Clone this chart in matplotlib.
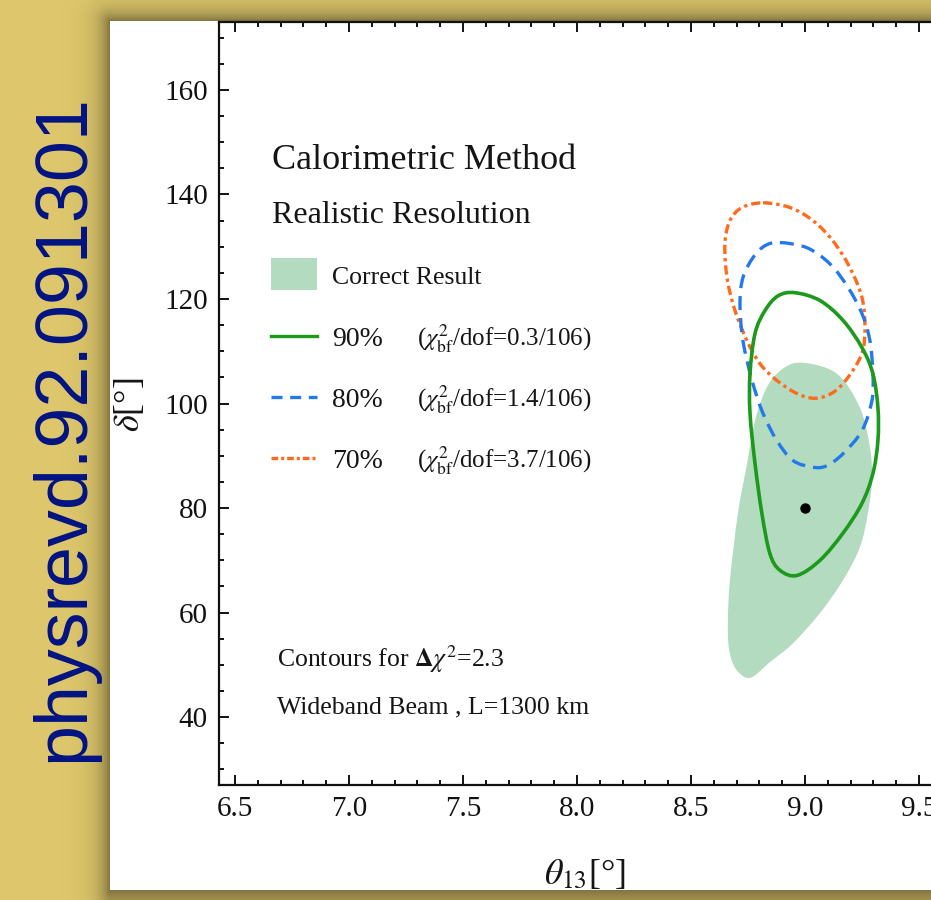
import numpy as np
import matplotlib
matplotlib.use('Agg')
import matplotlib.pyplot as plt
from matplotlib.path import Path
from matplotlib.patches import PathPatch, Rectangle
from matplotlib.lines import Line2D

plt.rcParams['font.family'] = ['Liberation Serif', 'DejaVu Serif']
plt.rcParams['mathtext.fontset'] = 'stix'

W, H, DPI = 931, 900, 100

# ---------------- data ----------------
correct_theta = [8.991, 9.140, 9.241, 9.285, 9.294, 9.276, 9.241, 9.167, 9.066, 8.947,
                 8.846, 8.759, 8.697, 8.667, 8.662, 8.671, 8.706, 8.746, 8.781, 8.833, 8.904]
correct_delta = [107.8, 105.7, 99.2, 91.6, 85.3, 79.0, 72.5, 66.2, 59.9, 54.1,
                 50.5, 47.5, 49.2, 53.0, 58.5, 66.2, 79.0, 88.5, 96.7, 103.1, 106.7]

c90_theta = [8.956, 9.066, 9.167, 9.250, 9.298, 9.320, 9.320, 9.298, 9.250, 9.167, 9.066,
             8.965, 8.890, 8.846, 8.811, 8.781, 8.759, 8.759, 8.781, 8.825, 8.882]
c90_delta = [121.2, 119.7, 115.9, 110.7, 105.7, 99.2, 92.9, 86.6, 80.9, 75.2, 70.0,
             67.1, 68.1, 71.3, 79.0, 88.5, 98.1, 105.7, 113.4, 117.8, 120.6]

c80_theta = [8.890, 9.009, 9.110, 9.189, 9.250, 9.285, 9.298, 9.294, 9.250, 9.167, 9.096,
             9.035, 8.947, 8.877, 8.816, 8.768, 8.728, 8.715, 8.728, 8.772, 8.825]
c80_delta = [130.8, 129.8, 126.7, 122.2, 117.2, 112.0, 105.7, 100.6, 94.8, 90.4, 88.1,
             87.8, 89.1, 92.9, 98.1, 104.4, 112.0, 119.1, 124.1, 127.9, 130.2]

c70_theta = [8.816, 8.934, 9.035, 9.123, 9.197, 9.250, 9.263, 9.250, 9.189, 9.123,
             9.044, 8.965, 8.877, 8.803, 8.746, 8.693, 8.658, 8.649, 8.671, 8.724]
c70_delta = [138.4, 137.5, 135.0, 131.1, 126.0, 120.3, 114.5, 109.6, 105.0, 102.1,
             101.0, 101.9, 104.4, 107.6, 112.0, 117.8, 124.1, 130.6, 135.0, 137.5]

best_fit_theta = [9.0]
best_fit_delta = [80.0]

legend_levels = ['90%', '80%', '70%']
legend_chi2 = [r'($\chi^2_{\rm bf}$/dof=0.3/106)',
               r'($\chi^2_{\rm bf}$/dof=1.4/106)',
               r'($\chi^2_{\rm bf}$/dof=3.7/106)']
x_ticks = [6.5, 7.0, 7.5, 8.0, 8.5, 9.0, 9.5]
y_ticks = [40, 60, 80, 100, 120, 140, 160]

# ---------------- styles ----------------
FILL = '#b3dbbf'
GREEN = '#1c9a1c'
BLUE = '#2479ea'
ORANGE = '#ff6a1c'
LS_BLUE = (0, (4.2, 2.4))
LS_ORANGE = (0, (2.8, 1.2, 1.0, 1.2))
LW = 2.4


def smooth_closed_path(xs, ys, close=False):
    P = np.column_stack([xs, ys]).astype(float)
    n = len(P)
    verts = [P[0]]
    codes = [Path.MOVETO]
    for i in range(n):
        p0, p1, p2, p3 = P[(i - 1) % n], P[i], P[(i + 1) % n], P[(i + 2) % n]
        verts += [p1 + (p2 - p0) / 6.0, p2 - (p3 - p1) / 6.0, p2]
        codes += [Path.CURVE4] * 3
    if close:
        verts.append(P[0])
        codes.append(Path.CLOSEPOLY)
    return Path(verts, codes)


fig = plt.figure(figsize=(W / DPI, H / DPI), dpi=DPI)
fig.patch.set_facecolor('#dec76c')

# ---------------- background with gold frame and shadow ----------------
bg = fig.add_axes([0, 0, 1, 1], zorder=-10)
yy, xx = np.mgrid[0:H, 0:W] + 0.5
px0, py0, py1 = 110, 21, 890
dx = np.maximum(px0 - xx, 0)
dy_top = np.maximum(py0 - yy, 0)
dy_bot = np.maximum(yy - py1, 0) * 0.45
d = np.hypot(dx, np.maximum(dy_top, dy_bot))
gold = np.array([222, 199, 108]) / 255.0
shade = 0.42 * np.exp(-d / 11.0)
img = gold[None, None, :] * (1 - shade[..., None])
inside = (xx >= px0) & (yy >= py0) & (yy <= py1)
img[inside] = 1.0
bg.imshow(img, extent=[0, W, H, 0], aspect='auto', interpolation='bilinear')
bg.set_xlim(0, W)
bg.set_ylim(H, 0)
bg.axis('off')

# ---------------- main axes ----------------
xmin, xmax, ymin, ymax = 6.43, 9.6, 27, 173
ax = fig.add_axes([219 / W, 1 - 785 / H, (xmax - xmin) * 228 / W, (785 - 22) / H])
ax.set_facecolor('none')
ax.set_xlim(xmin, xmax)
ax.set_ylim(ymin, ymax)

ax.add_patch(PathPatch(smooth_closed_path(correct_theta, correct_delta, close=True),
                       facecolor=FILL, edgecolor='none', zorder=1))
ax.add_patch(PathPatch(smooth_closed_path(c70_theta, c70_delta), facecolor='none',
                       edgecolor=ORANGE, lw=LW, linestyle=LS_ORANGE, zorder=2))
ax.add_patch(PathPatch(smooth_closed_path(c80_theta, c80_delta), facecolor='none',
                       edgecolor=BLUE, lw=LW, linestyle=LS_BLUE, zorder=3))
ax.add_patch(PathPatch(smooth_closed_path(c90_theta, c90_delta), facecolor='none',
                       edgecolor=GREEN, lw=LW + 0.2, zorder=4))
ax.plot(best_fit_theta, best_fit_delta, 'o', color='black', ms=6.5, zorder=5)

ax.set_xticks(x_ticks)
ax.set_xticklabels([f'{v:.1f}' for v in x_ticks])
ax.set_xticks(np.arange(6.5, 9.61, 0.1), minor=True)
ax.set_yticks(y_ticks)
ax.set_yticklabels([str(v) for v in y_ticks])
ax.set_yticks(np.arange(30, 171, 5), minor=True)
ax.tick_params(which='both', direction='in', top=True, right=True, width=1.4,
               colors='#111111', labelsize=21, pad=8)
ax.tick_params(which='major', length=7)
ax.tick_params(which='minor', length=3.5)
for s in ax.spines.values():
    s.set_linewidth(1.6)
    s.set_color('#111111')


def fx(px):
    return px / W


def fy(py):
    return 1 - py / H


TXT = '#151515'
fig.text(fx(272), fy(169), 'Calorimetric Method', size=26, color=TXT, va='baseline')
fig.text(fx(272), fy(223), 'Realistic Resolution', size=23, color=TXT, va='baseline')

# legend
fig.add_artist(Rectangle((fx(271), fy(290)), 46 / W, 32 / H, transform=fig.transFigure,
                         facecolor=FILL, edgecolor='none'))
fig.text(fx(332), fy(284), 'Correct Result', size=18.5, color=TXT, va='baseline')
line_y = [336, 397, 458]
text_y = [346, 407, 468]
styles = [(GREEN, '-'), (BLUE, (0, (3.3, 2.3))), (ORANGE, (0, (2.0, 0.9, 0.9, 0.9)))]
for ly, ty, lev, chi, (col, ls) in zip(line_y, text_y, legend_levels, legend_chi2, styles):
    fig.add_artist(Line2D([fx(271), fx(317)], [fy(ly), fy(ly)], transform=fig.transFigure,
                          color=col, lw=LW, linestyle=ls))
    fig.text(fx(332), fy(ty), lev, size=20, color=TXT, va='baseline')
    fig.text(fx(417), fy(ty), chi, size=18, color=TXT, va='baseline')

fig.text(fx(277), fy(667), r'Contours for $\mathbf{\Delta}\chi^2$=2.3', size=18.5,
         color=TXT, va='baseline')
fig.text(fx(277), fy(713), 'Wideband Beam , L=1300 km', size=18.5, color=TXT,
         va='baseline')

# axis labels
fig.text(fx(585), fy(884), r'$\theta_{13}$[°]', size=26, color=TXT, ha='center',
         va='baseline')
fig.text(fx(130), fy(405), r'$\delta$[°]', size=26, color=TXT, ha='center', va='center',
         rotation=90)

# DOI watermark
fig.text(fx(64), fy(428), 'physrevd.92.091301', size=53, color='#001383',
         family=['Liberation Sans', 'DejaVu Sans'], rotation=90, ha='center', va='center')

fig.savefig('out.png', dpi=DPI)
